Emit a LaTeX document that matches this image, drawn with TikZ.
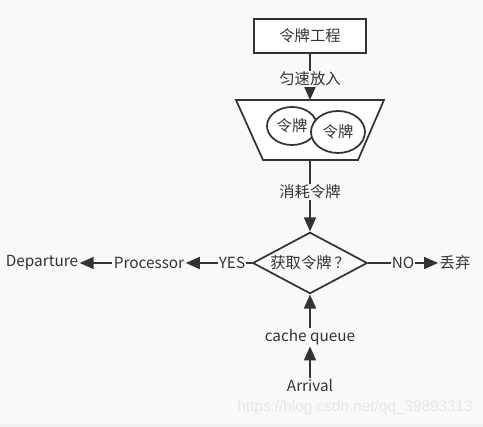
\documentclass[tikz,border=0pt]{standalone}
\usepackage{fontspec}
\setmainfont{Noto Sans CJK SC}
\newfontfamily\markfont{Liberation Sans}
\usetikzlibrary{shapes.geometric,arrows.meta}

\definecolor{bgcol}{RGB}{249,249,249}
\definecolor{inkcol}{RGB}{51,51,51}
\definecolor{markcol}{RGB}{230,230,230}

\tikzset{
	flow/.style={-{Triangle[length=10.5pt,width=9pt]},line width=1.3pt,draw=inkcol},
	plain/.style={line width=1.3pt,draw=inkcol},
	lbl/.style={fill=bgcol,inner sep=0.5pt,text=inkcol,font=\fontsize{11.5}{13}\selectfont},
	txt/.style={inner sep=1pt,text=inkcol,font=\fontsize{11.5}{13}\selectfont},
}

\begin{document}
\begin{tikzpicture}[x=0.75pt,y=-0.75pt]
		\fill[bgcol] (0,0) rectangle (483,424);
		\fill[gray!12] (0,424) rectangle (483,427);
		\useasboundingbox (0,0) rectangle (483,427);
		
		% token generator
		\node[plain,draw,fill=white,minimum width=84pt,minimum height=25pt,txt] (pool) at (310,36) {令牌工程};
		
		% bucket
		\draw[plain,fill=white] (236,100) -- (384,100) -- (358,160) -- (263,160) -- cycle;
		\coordinate (bucket top) at (310,100);
		\coordinate (bucket bot) at (310,160);
		\draw[plain,fill=white] (292,126) ellipse (25 and 19);
		\node[txt] at (292,126) {令牌};
		\draw[plain,fill=white] (338,132) ellipse (27 and 21);
		\node[txt] at (338,132) {令牌};
		
		\draw[flow] (pool) -- node[lbl,pos=0.55]{匀速放入} (bucket top);
		
		% decision
		\node[diamond,plain,draw,fill=bgcol,aspect=1.9,inner sep=0pt,minimum width=86pt,minimum height=46pt,txt] (check) at (310,263) {获取令牌\,？};
		\draw[flow] (bucket bot) -- node[lbl,pos=0.45]{消耗令牌} (check);
		
		\node[txt] (proc) at (149,263) {Processor};
		\node[txt] (depart) at (42,263) {Departure};
		\node[txt] (drop) at (455,263) {丢弃};
		\node[txt] (cache) at (310,337) {cache queue};
		\node[txt] (arrive) at (310,386) {Arrival};
		
		\draw[flow] (check) -- node[lbl,pos=0.3]{YES} (proc);
		\draw[flow] (proc) -- (depart);
		\draw[flow] (check) -- node[lbl,pos=0.5]{NO} (drop);
		\draw[flow] (cache) -- (check);
		\draw[flow] (arrive) -- (cache);
		
		\node[anchor=east,inner sep=0pt,text=markcol,font=\markfont\fontsize{11.5}{13}\selectfont] (mark) at (473,408) {https://blog.csdn.net/qq\_39893313};
\end{tikzpicture}
\end{document}
